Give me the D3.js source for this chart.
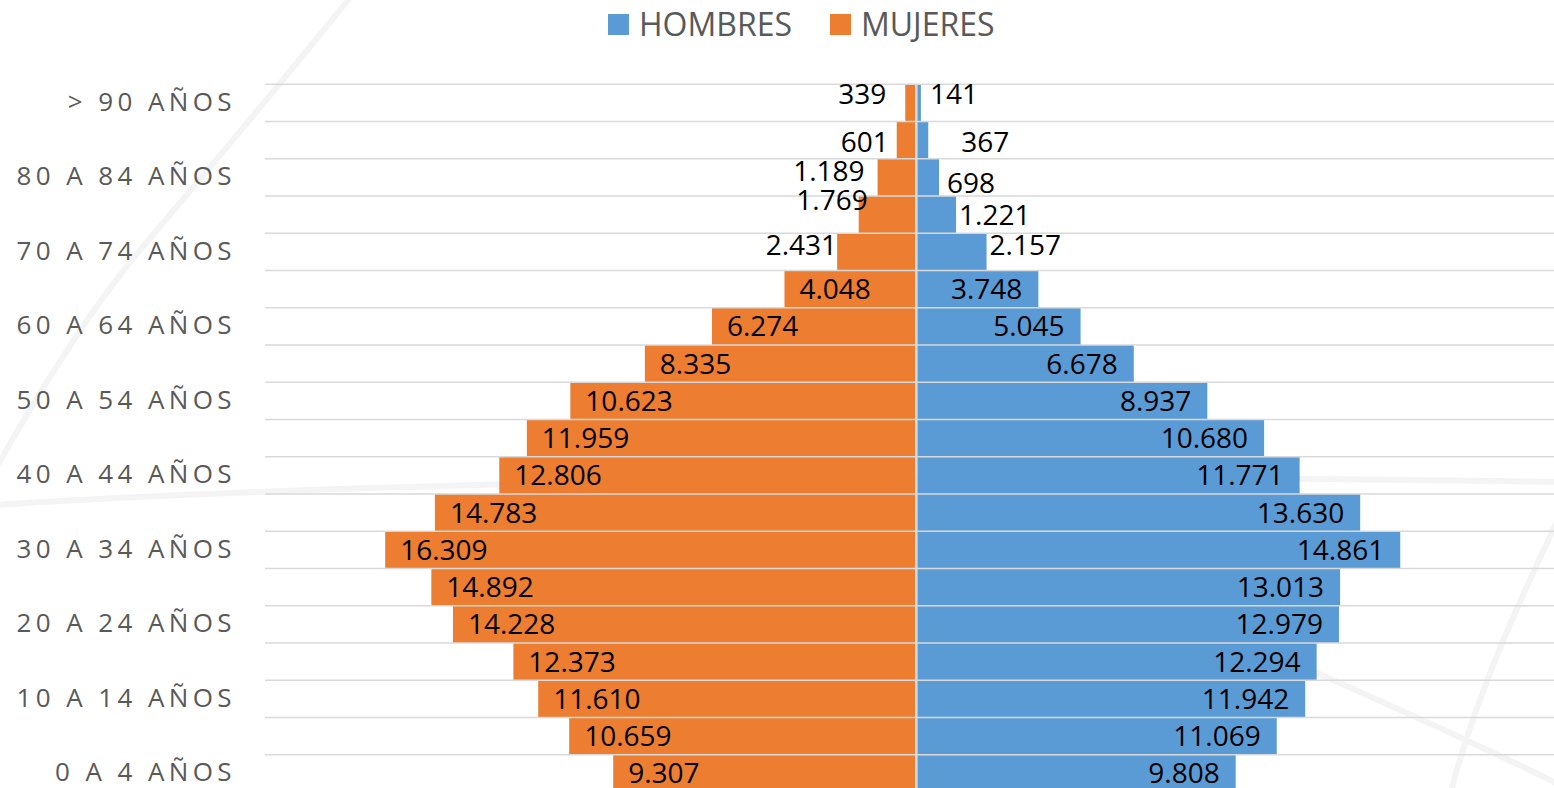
<!DOCTYPE html>
<html>
<head>
<meta charset="utf-8">
<script src="https://cdn.jsdelivr.net/npm/d3@7"></script>
<style>
  html, body { margin: 0; padding: 0; background: #ffffff; overflow: hidden; }
  svg { display: block; }
</style>
</head>
<body>
<svg id="chart" width="1554" height="788"></svg>
<script>
// ---------- DATA ----------
const categories = [
  "0 A 4 AÑOS", "5 A 9 AÑOS", "10 A 14 AÑOS", "15 A 19 AÑOS", "20 A 24 AÑOS",
  "25 A 29 AÑOS", "30 A 34 AÑOS", "35 A 39 AÑOS", "40 A 44 AÑOS", "45 A 49 AÑOS",
  "50 A 54 AÑOS", "55 A 59 AÑOS", "60 A 64 AÑOS", "65 A 69 AÑOS", "70 A 74 AÑOS",
  "75 A 79 AÑOS", "80 A 84 AÑOS", "85 A 89 AÑOS", "> 90 AÑOS"
];
const hombres = [9808, 11069, 11942, 12294, 12979, 13013, 14861, 13630, 11771, 10680,
                 8937, 6678, 5045, 3748, 2157, 1221, 698, 367, 141];
const mujeres = [9307, 10659, 11610, 12373, 14228, 14892, 16309, 14783, 12806, 11959,
                 10623, 8335, 6274, 4048, 2431, 1769, 1189, 601, 339];
const tickLabels = ["0 A 4 AÑOS", "10 A 14 AÑOS", "20 A 24 AÑOS", "30 A 34 AÑOS", "40 A 44 AÑOS",
                    "50 A 54 AÑOS", "60 A 64 AÑOS", "70 A 74 AÑOS", "80 A 84 AÑOS", "> 90 AÑOS"];
const seriesNames = ["HOMBRES", "MUJERES"];

// ---------- LAYOUT / STYLE ----------
const colors = { HOMBRES: "#5B9BD5", MUJERES: "#ED7D31" };
const textGray = "#595959";
const gridGray = "#D9D9D9";
// manual nudges of the small (outside) data labels, like the original
const nudgeM = { "> 90 AÑOS": [-19, -9], "85 A 89 AÑOS": [-8, 2], "80 A 84 AÑOS": [-13, -6], "75 A 79 AÑOS": [9, -15], "70 A 74 AÑOS": [0, -7] };
const nudgeH = { "> 90 AÑOS": [9, -9], "85 A 89 AÑOS": [33, 2], "80 A 84 AÑOS": [8, 6], "75 A 79 AÑOS": [3, 0], "70 A 74 AÑOS": [3, -7] };

const svg = d3.select("#chart");
const fmt = v => d3.format(",")(v).replace(/,/g, ".");

// decorative faint background strokes
const deco = svg.append("g").attr("fill", "none").attr("stroke", "#F4F4F4").attr("stroke-width", 6).attr("stroke-linecap", "round");
deco.append("path").attr("d", "M352,-5 C300,60 200,180 140,250 C90,310 40,390 -5,470");
deco.append("path").attr("d", "M-5,505 C200,492 500,482 900,478 C1100,476 1300,478 1560,482");
deco.append("path").attr("d", "M1560,515 C1530,580 1480,680 1450,795");
deco.append("path").attr("d", "M1315,672 C1400,710 1480,745 1560,785");

const x = d3.scaleLinear().domain([-20000, 20000]).range([265, 1567.6]);
const y = d3.scaleBand().domain(categories.slice().reverse()).range([84.3, 792]).padding(0);
const x0 = x(0);

const rows = categories.map((c, i) => ({ cat: c, h: hombres[i], m: mujeres[i] }));

// bars
const gBars = svg.append("g");
gBars.selectAll("rect.m").data(rows).join("rect")
  .attr("class", "m")
  .attr("x", d => x(-d.m)).attr("width", d => x0 - 1 - x(-d.m))
  .attr("y", d => y(d.cat)).attr("height", y.bandwidth())
  .attr("fill", colors.MUJERES);
gBars.selectAll("rect.h").data(rows).join("rect")
  .attr("class", "h")
  .attr("x", x0 + 1).attr("width", d => x(d.h) - x0 - 1)
  .attr("y", d => y(d.cat)).attr("height", y.bandwidth())
  .attr("fill", colors.HOMBRES);

// gridlines (band boundaries)
const bounds = categories.map(c => y(c)).concat([y.range()[1]]);
svg.append("g").selectAll("line").data(bounds).join("line")
  .attr("x1", 265).attr("x2", 1554)
  .attr("y1", d => d).attr("y2", d => d)
  .attr("stroke", gridGray).attr("stroke-width", 1.6);

// center axis line
svg.append("line").attr("x1", x0).attr("x2", x0).attr("y1", y.range()[0]).attr("y2", 792)
  .attr("stroke", gridGray).attr("stroke-width", 2);

// y axis labels
const yAxis = d3.axisLeft(y).tickValues(tickLabels).tickSize(0).tickPadding(0);
const gy = svg.append("g").attr("transform", "translate(236,0)").call(yAxis);
gy.select(".domain").remove();
gy.selectAll("text")
  .attr("font-family", "'Open Sans', sans-serif")
  .attr("font-size", 26)
  .attr("letter-spacing", "4.4px")
  .attr("fill", textGray)
  .attr("dy", "0.31em");

// data labels
const lblFont = "'Open Sans', sans-serif";
const lblSize = 28;
const gl = svg.append("g").attr("font-family", lblFont).attr("font-size", lblSize).attr("fill", "#000");
rows.forEach(d => {
  const cy = y(d.cat) + y.bandwidth() / 2;
  // mujeres (left)
  if (nudgeM[d.cat]) {
    const n = nudgeM[d.cat];
    gl.append("text").attr("x", x(-d.m) + n[0]).attr("y", cy + n[1]).attr("dy", "0.36em")
      .attr("text-anchor", "end").text(fmt(d.m));
  } else {
    gl.append("text").attr("x", x(-d.m) + 15).attr("y", cy).attr("dy", "0.36em")
      .attr("text-anchor", "start").text(fmt(d.m));
  }
  // hombres (right)
  if (nudgeH[d.cat]) {
    const n = nudgeH[d.cat];
    gl.append("text").attr("x", x(d.h) + n[0]).attr("y", cy + n[1]).attr("dy", "0.36em")
      .attr("text-anchor", "start").text(fmt(d.h));
  } else {
    gl.append("text").attr("x", x(d.h) - 16).attr("y", cy).attr("dy", "0.36em")
      .attr("text-anchor", "end").text(fmt(d.h));
  }
});

// legend
const legend = svg.append("g").attr("font-family", "'Open Sans', sans-serif").attr("font-size", 32).attr("fill", textGray);
const legX = { HOMBRES: 608, MUJERES: 830 };
seriesNames.forEach(s => {
  legend.append("rect").attr("x", legX[s]).attr("y", 14).attr("width", 21).attr("height", 21).attr("fill", colors[s]);
  legend.append("text").attr("x", legX[s] + 31).attr("y", 24).attr("dy", "0.36em").text(s);
});
</script>
</body>
</html>
